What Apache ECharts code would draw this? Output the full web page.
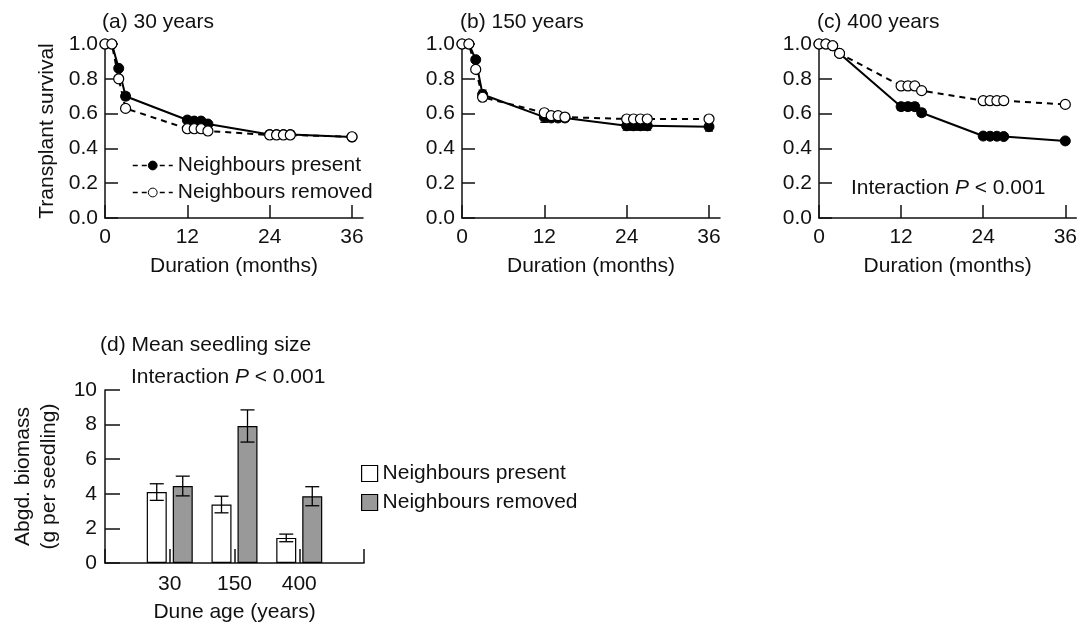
<!DOCTYPE html>
<html><head><meta charset="utf-8">
<script src="https://cdn.jsdelivr.net/npm/echarts@6/dist/echarts.min.js"></script>
<style>html,body{margin:0;padding:0;background:#fff}#c{width:1080px;height:624px}</style>
</head><body><div id="c"></div>
<script>
// ---- data ----
const months = [0, 1, 2, 3, 12, 13, 14, 15, 24, 25, 26, 27, 36];
const monthTicks = [0, 12, 24, 36];
const survivalTicks = [0, 0.2, 0.4, 0.6, 0.8, 1.0];

const aPresent    = [1.0, 1.0, 0.86, 0.70, 0.563, 0.557, 0.557, 0.54, 0.48, 0.48, 0.48, 0.48, 0.465];
const aPresentErr = [0, 0, 0.015, 0.02, 0.015, 0.015, 0.015, 0.015, 0.02, 0.02, 0.02, 0.02, 0.02];
const aRemoved    = [1.0, 1.0, 0.80, 0.63, 0.513, 0.513, 0.513, 0.50, 0.477, 0.477, 0.477, 0.477, 0.467];
const aRemovedErr = [0, 0, 0.015, 0.015, 0.015, 0.015, 0.015, 0.015, 0.015, 0.015, 0.015, 0.015, 0.015];

const bPresent    = [1.0, 1.0, 0.91, 0.71, 0.58, 0.575, 0.575, 0.575, 0.53, 0.53, 0.53, 0.53, 0.525];
const bPresentErr = [0, 0, 0.015, 0.025, 0.03, 0.02, 0.02, 0.02, 0.025, 0.025, 0.025, 0.025, 0.025];
const bRemoved    = [1.0, 1.0, 0.854, 0.694, 0.605, 0.588, 0.588, 0.58, 0.569, 0.569, 0.569, 0.569, 0.569];
const bRemovedErr = [0, 0, 0.01, 0.02, 0.015, 0.015, 0.015, 0.015, 0.01, 0.01, 0.01, 0.01, 0.01];

const cPresent    = [1.0, 1.0, 0.99, 0.946, 0.64, 0.64, 0.64, 0.605, 0.471, 0.47, 0.47, 0.468, 0.443];
const cPresentErr = [0, 0, 0.005, 0.01, 0.02, 0.02, 0.02, 0.02, 0.015, 0.015, 0.015, 0.015, 0.015];
const cRemoved    = [1.0, 1.0, 0.99, 0.946, 0.759, 0.759, 0.759, 0.732, 0.674, 0.674, 0.674, 0.674, 0.653];
const cRemovedErr = [0, 0, 0.005, 0.01, 0.01, 0.01, 0.01, 0.01, 0.01, 0.01, 0.01, 0.01, 0.01];

const duneAges = ['30', '150', '400'];
const biomassPresent    = [4.1, 3.38, 1.45];
const biomassPresentErr = [0.48, 0.48, 0.22];
const biomassRemoved    = [4.45, 7.92, 3.86];
const biomassRemovedErr = [0.57, 0.93, 0.55];
const biomassTicks = [0, 2, 4, 6, 8, 10];

// ---- styling / layout ----
const FONT = '"Liberation Sans", Arial, sans-serif';
const FS = 21;
const INK = '#111';
const XMAX = 37.6;
const BAR_W = 20, BAR_GAP = 6;
const BAR_OFF = (BAR_W + BAR_GAP) / 2;

const panels = [
  {title: '(a) 30 years', present: aPresent, presentErr: aPresentErr, removed: aRemoved, removedErr: aRemovedErr, left: 105},
  {title: '(b) 150 years', present: bPresent, presentErr: bPresentErr, removed: bRemoved, removedErr: bRemovedErr, left: 462},
  {title: '(c) 400 years', present: cPresent, presentErr: cPresentErr, removed: cRemoved, removedErr: cRemovedErr, left: 819}
];

const axisLineStyle = {show: true, lineStyle: {color: INK, width: 1.5}};
const labelStyle = {color: INK, fontSize: FS, fontFamily: FONT};

const grids = [], xAxes = [], yAxes = [], series = [];

function errRender(capHalf, dx) {
  return function (params, api) {
    const x = api.value(0), v = api.value(1), e = api.value(2);
    if (!e) return null;
    const t = api.coord([x, v + e]);
    const b = api.coord([x, v - e]);
    const ox = dx ? dx(api.value(3)) : 0;
    const X = t[0] + ox;
    const st = {stroke: '#000', lineWidth: 1.3};
    return {type: 'group', children: [
      {type: 'line', shape: {x1: X, y1: t[1], x2: X, y2: b[1]}, style: st},
      {type: 'line', shape: {x1: X - capHalf, y1: t[1], x2: X + capHalf, y2: t[1]}, style: st},
      {type: 'line', shape: {x1: X - capHalf, y1: b[1], x2: X + capHalf, y2: b[1]}, style: st}
    ]};
  };
}

panels.forEach((p, i) => {
  grids.push({left: p.left, top: 44, width: 258, height: 174, containLabel: false});
  xAxes.push({
    type: 'value', gridIndex: i, min: 0, max: XMAX,
    axisLine: axisLineStyle, splitLine: {show: false},
    axisTick: {show: true, inside: true, length: 13, customValues: monthTicks, lineStyle: {color: INK, width: 1.5}},
    axisLabel: Object.assign({margin: 9, customValues: monthTicks}, labelStyle),
    name: 'Duration (months)', nameLocation: 'middle', nameGap: 38,
    nameTextStyle: {color: INK, fontSize: FS, fontFamily: FONT}
  });
  yAxes.push({
    type: 'value', gridIndex: i, min: 0, max: 1, interval: 0.2,
    axisLine: axisLineStyle, splitLine: {show: false},
    axisTick: {show: true, inside: true, length: 13, lineStyle: {color: INK, width: 1.5}},
    axisLabel: Object.assign({margin: 7, formatter: v => v.toFixed(1)}, labelStyle),
    name: i === 0 ? 'Transplant survival' : '', nameLocation: 'middle', nameGap: 47, nameRotate: 90,
    nameTextStyle: {color: INK, fontSize: FS, fontFamily: FONT}
  });
  const pe = months.map((m, k) => [m, p.present[k], p.presentErr[k]]);
  const re = months.map((m, k) => [m, p.removed[k], p.removedErr[k]]);
  series.push({type: 'custom', xAxisIndex: i, yAxisIndex: i, data: pe, renderItem: errRender(4), z: 1, silent: true});
  series.push({type: 'custom', xAxisIndex: i, yAxisIndex: i, data: re, renderItem: errRender(4), z: 1, silent: true});
  series.push({
    name: 'Neighbours present', type: 'line', xAxisIndex: i, yAxisIndex: i, clip: false,
    data: months.map((m, k) => [m, p.present[k]]),
    symbol: 'circle', symbolSize: 10,
    itemStyle: {color: '#000', borderColor: '#000', borderWidth: 1},
    lineStyle: {color: '#000', width: 2, type: 'solid'}, z: 3
  });
  series.push({
    name: 'Neighbours removed', type: 'line', xAxisIndex: i, yAxisIndex: i, clip: false,
    data: months.map((m, k) => [m, p.removed[k]]),
    symbol: 'circle', symbolSize: 10,
    itemStyle: {color: '#fff', borderColor: '#000', borderWidth: 1.2},
    lineStyle: {color: '#000', width: 2, type: [6, 5]}, z: 4
  });
});

// panel d
const dCats = [''].concat(duneAges, ['']);
grids.push({left: 105, top: 390, width: 259, height: 173});
xAxes.push({
  type: 'category', gridIndex: 3, data: dCats, boundaryGap: false,
  axisLine: axisLineStyle,
  axisTick: {show: true, inside: true, length: 14, lineStyle: {color: INK, width: 1.5}},
  axisLabel: Object.assign({margin: 11, interval: 0}, labelStyle),
  name: 'Dune age (years)', nameLocation: 'middle', nameGap: 39,
  nameTextStyle: {color: INK, fontSize: FS, fontFamily: FONT}
});
yAxes.push({
  type: 'value', gridIndex: 3, min: 0, max: 10, interval: 2,
  axisLine: axisLineStyle, splitLine: {show: false},
  axisTick: {show: true, inside: true, length: 15, lineStyle: {color: INK, width: 1.5}},
  axisLabel: Object.assign({margin: 8}, labelStyle),
  name: 'Abgd. biomass\n(g per seedling)', nameLocation: 'middle', nameGap: 43, nameRotate: 90,
  nameTextStyle: {color: INK, fontSize: FS, fontFamily: FONT, lineHeight: 26}
});
const padVals = arr => [null].concat(arr, [null]);
series.push({
  name: 'bar_present', type: 'bar', xAxisIndex: 3, yAxisIndex: 3, data: padVals(biomassPresent),
  barWidth: BAR_W, barGap: (BAR_GAP / BAR_W * 100) + '%',
  itemStyle: {color: '#fff', borderColor: '#000', borderWidth: 1.2}, z: 2
});
series.push({
  name: 'bar_removed', type: 'bar', xAxisIndex: 3, yAxisIndex: 3, data: padVals(biomassRemoved),
  barWidth: BAR_W, barGap: (BAR_GAP / BAR_W * 100) + '%',
  itemStyle: {color: '#999', borderColor: '#000', borderWidth: 1.2}, z: 2
});
const barErrData = [];
duneAges.forEach((a, k) => {
  barErrData.push([k + 1, biomassPresent[k], biomassPresentErr[k], -1]);
  barErrData.push([k + 1, biomassRemoved[k], biomassRemovedErr[k], 1]);
});
series.push({
  type: 'custom', xAxisIndex: 3, yAxisIndex: 3, data: barErrData, z: 5, silent: true,
  encode: {x: 0, y: 1},
  renderItem: errRender(7, s => s * BAR_OFF)
});

const barLegendNames = {bar_present: 'Neighbours present', bar_removed: 'Neighbours removed'};

const titleStyle = {color: INK, fontSize: FS, fontFamily: FONT, fontWeight: 'normal'};
const interRich = {
  text: '{n|Interaction }{i|P}{n| < 0.001}',
  textStyle: Object.assign({}, titleStyle, {rich: {
    n: {fontSize: FS, fontFamily: FONT, color: INK},
    i: {fontSize: FS, fontFamily: FONT, color: INK, fontStyle: 'italic'}
  }})
};

const option = {
  backgroundColor: '#fff',
  animation: false,
  title: [
    {text: panels[0].title, left: 102, top: 12, padding: 0, textStyle: titleStyle},
    {text: panels[1].title, left: 460, top: 12, padding: 0, textStyle: titleStyle},
    {text: panels[2].title, left: 817, top: 12, padding: 0, textStyle: titleStyle},
    Object.assign({left: 851, top: 178, padding: 0}, interRich),
    {text: '(d) Mean seedling size', left: 100, top: 335, padding: 0, textStyle: titleStyle},
    Object.assign({left: 131, top: 367, padding: 0}, interRich)
  ],
  legend: [
    {
      left: 132, top: 155, orient: 'vertical', itemWidth: 40, itemHeight: 11, itemGap: 6,
      selectedMode: false, padding: 0,
      data: [
        {name: 'Neighbours present', itemStyle: {color: '#000', borderColor: '#000', borderWidth: 1}},
        {name: 'Neighbours removed', itemStyle: {color: '#fff', borderColor: '#000', borderWidth: 1}}
      ],
      lineStyle: {type: [5, 4], width: 1.5, color: '#000'},
      textStyle: {color: INK, fontSize: FS, fontFamily: FONT}
    },
    {
      left: 361, top: 463, orient: 'vertical', itemWidth: 16, itemHeight: 16, itemGap: 8,
      selectedMode: false, padding: 0, icon: 'rect',
      data: ['bar_present', 'bar_removed'],
      formatter: n => barLegendNames[n],
      itemStyle: {borderColor: '#000', borderWidth: 1.2},
      textStyle: {color: INK, fontSize: FS, fontFamily: FONT}
    }
  ],
  grid: grids,
  xAxis: xAxes,
  yAxis: yAxes,
  series: series
};

const chart = echarts.init(document.getElementById('c'), null, {renderer: 'canvas'});
chart.setOption(option);
</script>
</body></html>
